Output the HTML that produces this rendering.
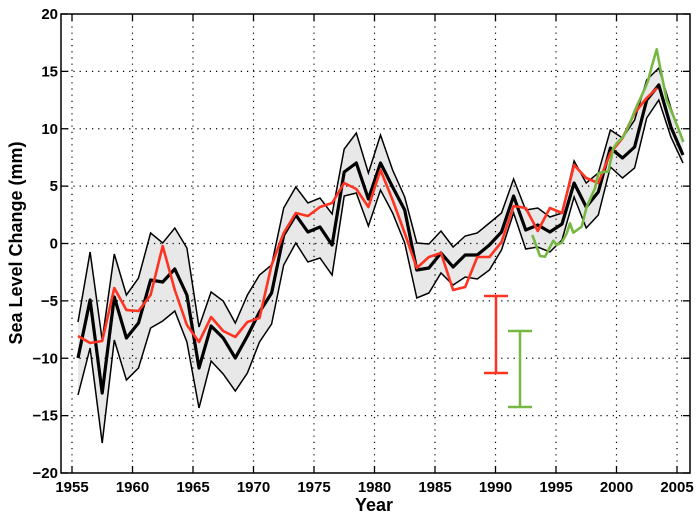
<!DOCTYPE html>
<html><head><meta charset="utf-8"><style>
html,body{margin:0;padding:0;background:#fff;}
svg{display:block;font-family:"Liberation Sans",Arial,sans-serif;}
</style></head><body>
<svg id="s" width="700" height="517" viewBox="0 0 700 517" xmlns="http://www.w3.org/2000/svg"></svg>
<script>
const s=document.getElementById('s');
const X=yr=>72+(yr-1955)*12.1;
const Y=v=>243.5-v*11.475;
let h='';
const xs=[];for(let i=0;i<51;i++)xs.push(78+i*12.1);
const mean=[358,300,393,297,338,323,280,282,269,295,368,326,338,358,336,312,293,235,215,232,227,245,172,163,199,163,187,210,270,268,253,267,255,255,245,232,196,230,225,232,224,183,207,192,148,158,147,100,85,127,155];
const up=[322,252,340,254,295,278,233,243,228,248,327,292,301,323,295,275,265,208,187,203,198,214,149,133,173,135,170,197,243,244,231,247,236,233,223,213,179,210,208,217,213,161,183,173,130,138,120,80,68,108,142];
const lo=[395,348,443,340,380,368,328,321,311,342,408,361,374,391,373,342,324,265,243,262,258,275,196,193,226,190,213,243,298,293,273,285,277,279,270,250,213,249,247,252,240,197,228,215,167,178,168,118,100,137,163];
const red=[336,343,341,288,310,311,295,246,290,325,342,317,331,337,322,318,265,233,213,216,207,203,183,189,207,170,200,233,268,257,253,290,287,257,257,242,206,208,231,208,213,165,178,183,153,138,113,98];
const pts=(a)=>a.map((y,i)=>xs[i].toFixed(1)+','+y).join(' ');
let band=up.map((y,i)=>xs[i].toFixed(1)+','+y).join(' ')+' '+lo.map((y,i)=>xs[i].toFixed(1)+','+y).reverse().join(' ');
h+=`<polygon points="${band}" fill="#e8e8e8" stroke="none"/>`;
for(let yr=1955;yr<=2005;yr+=5){const x=X(yr);h+=`<line x1="${x}" y1="14" x2="${x}" y2="473" stroke="#000" stroke-width="1.2" stroke-dasharray="1.2,5"/>`;}
for(let v=-15;v<=15;v+=5){const y=Y(v);h+=`<line x1="61" y1="${y}" x2="690" y2="${y}" stroke="#000" stroke-width="1.2" stroke-dasharray="1.2,5"/>`;}
h+=`<polyline points="${pts(up)}" fill="none" stroke="#000" stroke-width="1.5"/>`;
h+=`<polyline points="${pts(lo)}" fill="none" stroke="#000" stroke-width="1.5"/>`;
h+=`<polyline points="${pts(mean)}" fill="none" stroke="#000" stroke-width="3.2" stroke-linejoin="round"/>`;
let rp=pts(red)+' 657,88';
h+=`<polyline points="${rp}" fill="none" stroke="#ff3322" stroke-width="2.6" stroke-linejoin="round"/>`;
const g=[[37,705],[60,768],[75,770],[100,722],[110,735],[125,728],[140,700],[150,670],[160,698],[185,680],[200,620],[225,565],[235,520],[255,515],[265,515],[280,445],[290,430],[310,410],[330,370],[345,330],[375,265],[385,240],[395,200],[410,148],[420,200],[440,300],[465,360],[490,425]];
h+=`<polyline points="${g.map(p=>(520+p[0]/3).toFixed(1)+','+(p[1]/3).toFixed(1)).join(' ')}" fill="none" stroke="#77b843" stroke-width="2.6" stroke-linejoin="round"/>`;
h+=`<g stroke="#ff3322" stroke-width="2.5"><line x1="496" y1="296" x2="496" y2="373"/><line x1="484" y1="296" x2="508" y2="296"/><line x1="484" y1="373" x2="508" y2="373"/></g>`;
h+=`<g stroke="#77b843" stroke-width="2.5"><line x1="520" y1="331" x2="520" y2="407"/><line x1="508" y1="331" x2="532" y2="331"/><line x1="508" y1="407" x2="532" y2="407"/></g>`;
h+=`<rect x="61" y="14" width="629" height="459" fill="none" stroke="#000" stroke-width="1.5"/>`;
for(let yr=1955;yr<=2005;yr+=5){const x=X(yr);h+=`<line x1="${x}" y1="473" x2="${x}" y2="466" stroke="#000" stroke-width="1.3"/><line x1="${x}" y1="14" x2="${x}" y2="21" stroke="#000" stroke-width="1.3"/>`;
h+=`<text x="${x}" y="492" font-size="15" font-weight="bold" text-anchor="middle">${yr}</text>`;}
for(let v=-20;v<=20;v+=5){const y=Y(v);h+=`<line x1="61" y1="${y}" x2="68" y2="${y}" stroke="#000" stroke-width="1.3"/><line x1="690" y1="${y}" x2="683" y2="${y}" stroke="#000" stroke-width="1.3"/>`;
h+=`<text x="58" y="${y+5}" font-size="15" font-weight="bold" text-anchor="end">${v<0?'\u2212'+(-v):v}</text>`;}
h+=`<text x="374" y="511" font-size="18" font-weight="bold" text-anchor="middle">Year</text>`;
h+=`<text transform="translate(22,243) rotate(-90)" font-size="18" font-weight="bold" text-anchor="middle">Sea Level Change (mm)</text>`;
s.innerHTML=h;
</script>
</body></html>
